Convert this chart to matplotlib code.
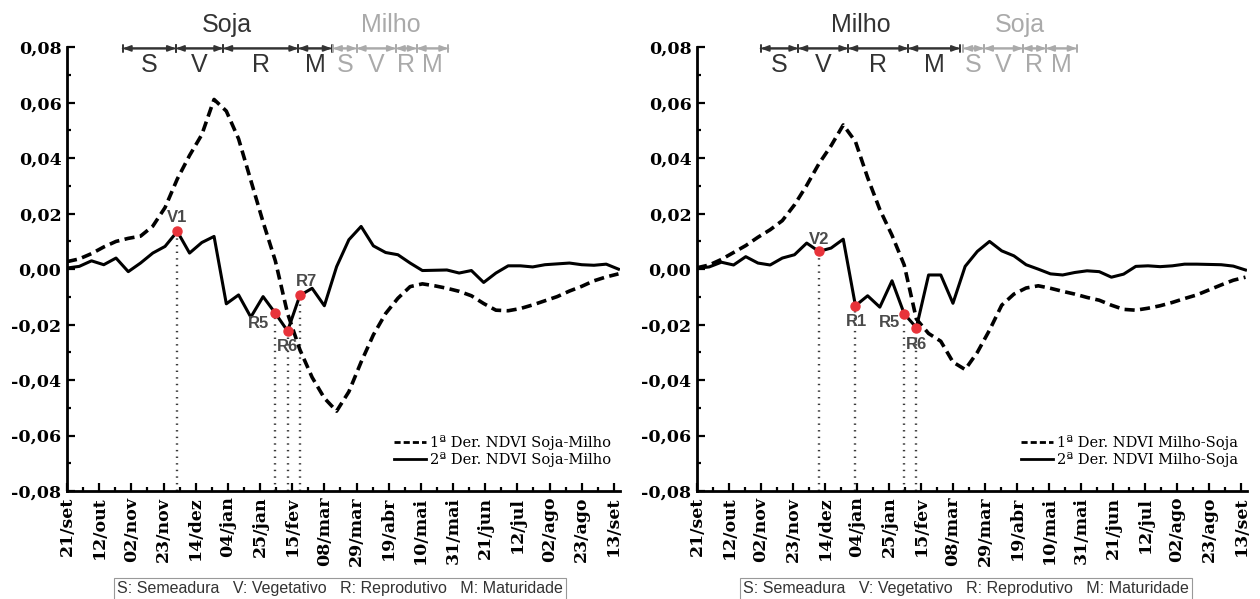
import numpy as np
import matplotlib
matplotlib.use("Agg")
import matplotlib.pyplot as plt
from matplotlib.lines import Line2D
from matplotlib.ticker import FixedLocator, MultipleLocator, FuncFormatter

# 8-day composites, days counted from 21/set
days = np.arange(0, 361, 8)

tick_days = np.arange(0, 358, 21)
tick_labels = ["21/set", "12/out", "02/nov", "23/nov", "14/dez", "04/jan",
               "25/jan", "15/fev", "08/mar", "29/mar", "19/abr", "10/mai",
               "31/mai", "21/jun", "12/jul", "02/ago", "23/ago", "13/set"]

# Soja-Milho: first and second derivative of NDVI
soja_d1 = [0.0027, 0.0037, 0.0056, 0.0080, 0.0100, 0.0111, 0.0119, 0.0155,
           0.0222, 0.0325, 0.0410, 0.0485, 0.0612, 0.0570, 0.0470, 0.0320,
           0.0170, 0.0030, -0.0160, -0.0290, -0.0390, -0.0465, -0.0512, -0.0442,
           -0.0335, -0.0237, -0.0160, -0.0105, -0.0063, -0.0053, -0.0060, -0.0069,
           -0.0080, -0.0096, -0.0124, -0.0148, -0.0150, -0.0142, -0.0129, -0.0114,
           -0.0099, -0.0079, -0.0062, -0.0042, -0.0028, -0.0017]
soja_d2 = [0.0004, 0.0010, 0.0030, 0.0016, 0.0040, -0.0009, 0.0022, 0.0058,
           0.0082, 0.0136, 0.0058, 0.0096, 0.0118, -0.0125, -0.0093, -0.0173,
           -0.0099, -0.0159, -0.0223, -0.0095, -0.0069, -0.0132, 0.0009, 0.0106,
           0.0154, 0.0084, 0.0060, 0.0052, 0.0022, -0.0005, -0.0004, -0.0003,
           -0.0014, -0.0005, -0.0048, -0.0014, 0.0012, 0.0012, 0.0008, 0.0016,
           0.0019, 0.0022, 0.0016, 0.0014, 0.0018, 0.0000]
soja_stage_names = ["V1", "R5", "R6", "R7"]
soja_stage_days = [72, 136, 144, 152]

# Milho-Soja: first and second derivative of NDVI
milho_d1 = [0.0005, 0.0015, 0.0035, 0.0060, 0.0085, 0.0115, 0.0142, 0.0175,
            0.0232, 0.0302, 0.0380, 0.0445, 0.0520, 0.0460, 0.0330, 0.0215,
            0.0122, 0.0015, -0.0180, -0.0232, -0.0260, -0.0335, -0.0362, -0.0300,
            -0.0220, -0.0130, -0.0090, -0.0068, -0.0060, -0.0069, -0.0080, -0.0090,
            -0.0102, -0.0112, -0.0130, -0.0145, -0.0148, -0.0141, -0.0132, -0.0120,
            -0.0106, -0.0093, -0.0075, -0.0057, -0.0040, -0.0029]
milho_d2 = [0.0003, 0.0008, 0.0025, 0.0015, 0.0045, 0.0022, 0.0015, 0.0040,
            0.0052, 0.0094, 0.0064, 0.0076, 0.0108, -0.0132, -0.0096, -0.0137,
            -0.0042, -0.0161, -0.0211, -0.0021, -0.0021, -0.0123, 0.0010, 0.0064,
            0.0100, 0.0066, 0.0048, 0.0016, 0.0000, -0.0017, -0.0021, -0.0012,
            -0.0006, -0.0009, -0.0029, -0.0018, 0.0010, 0.0012, 0.0009, 0.0012,
            0.0018, 0.0018, 0.0017, 0.0016, 0.0011, -0.0003]
milho_stage_names = ["V2", "R1", "R5", "R6"]
milho_stage_days = [80, 104, 136, 144]

# Crop phase limits (days): S, V, R, M
soja_phases = [36.4, 71.1, 102.0, 151.0, 172.8]
milho_after_soja = [173.6, 189.1, 214.7, 228.3, 248.9]
milho_phases = [41.8, 66.5, 99.3, 138.7, 172.6]
soja_after_milho = [174.8, 188.4, 213.8, 229.1, 249.2]
phase_letters = ["S", "V", "R", "M"]

DARK = "#333333"
LIGHT = "#aaaaaa"
RED = "#e8333a"

# label offsets in pixels for the stage markers
soja_offsets = [(0, 14), (-17, -10), (0, -16), (7, 14)]
milho_offsets = [(0, 12), (1, -16), (-15, -9), (0, -17)]

fig = plt.figure(figsize=(12.6, 5.99), dpi=100)
W, H = 1260, 599
ax1 = fig.add_axes([67 / W, 1 - 491 / H, 553 / W, (491 - 47.3) / H])
ax2 = fig.add_axes([697 / W, 1 - 491 / H, 550 / W, (491 - 47.3) / H])


def phase_bar(ax, bounds, color, title):
    y = 0.0796
    for a, b in zip(bounds[:-1], bounds[1:]):
        ax.annotate("", xy=(b, y), xytext=(a, y), annotation_clip=False,
                    arrowprops=dict(arrowstyle="<|-|>,head_length=0.45,head_width=0.17",
                                    color=color, lw=1.4, shrinkA=0, shrinkB=0))
        ax.annotate("", xy=(b, y), xytext=(a, y), annotation_clip=False,
                    arrowprops=dict(arrowstyle="|-|,widthA=0.25,widthB=0.25",
                                    color=color, lw=1.4, shrinkA=0, shrinkB=0))
    for a, b, letter in zip(bounds[:-1], bounds[1:], phase_letters):
        ax.text((a + b) / 2, 0.0737, letter, ha="center", va="center",
                fontsize=18, color=color, family="Liberation Sans", clip_on=False)
    ax.text((bounds[0] + bounds[-1]) / 2, 0.0882, title, ha="center", va="center",
            fontsize=18, color=color, family="Liberation Sans", clip_on=False)


def panel(ax, d1, d2, names, stage_days, offsets, label1, label2,
          phases, phases2, crop1, crop2):
    ax.plot(days, d1, color="black", lw=2.6, linestyle=(0, (2.8, 1.5)),
            label=label1, zorder=3)
    ax.plot(days, d2, color="black", lw=2.2, label=label2, zorder=3)
    for name, sd, off in zip(names, stage_days, offsets):
        v = d2[list(days).index(sd)]
        ax.plot([sd, sd], [-0.08, v], color="#3a3a3a", lw=1.7,
                linestyle=(0, (0.6, 2.2)), zorder=2)
        ax.plot(sd, v, "o", color=RED, ms=6.5, mec=RED, zorder=5)
        ax.annotate(name, xy=(sd, v), xytext=off, textcoords="offset pixels",
                    ha="center", va="center", fontsize=12, fontweight="bold",
                    color="#4a4a4a", family="Liberation Sans", zorder=6)

    ax.set_xlim(0, 361)
    ax.set_ylim(-0.08, 0.08)
    for s in ("top", "right"):
        ax.spines[s].set_visible(False)
    for s in ("left", "bottom"):
        ax.spines[s].set_linewidth(2)
    ax.xaxis.set_major_locator(FixedLocator(tick_days))
    ax.xaxis.set_minor_locator(FixedLocator(tick_days[:-1] + 10.5))
    ax.set_xticklabels(tick_labels, rotation=90, fontsize=12.5, fontweight="bold",
                       family="DejaVu Serif")
    ax.yaxis.set_major_locator(MultipleLocator(0.02))
    ax.yaxis.set_minor_locator(MultipleLocator(0.01))
    ax.yaxis.set_major_formatter(FuncFormatter(
        lambda v, p: f"{v:.2f}".replace(".", ",").replace("-0,00", "0,00")))
    for lab in ax.get_yticklabels():
        lab.set_fontsize(12.5)
        lab.set_fontweight("bold")
        lab.set_family("DejaVu Serif")
    ax.tick_params(which="both", direction="in", width=1.6, color="black")
    ax.tick_params(which="major", length=6, pad=4)
    ax.tick_params(which="minor", length=3)

    handles = [Line2D([], [], color="black", lw=2, linestyle=(0, (2.2, 1.1))),
               Line2D([], [], color="black", lw=2)]
    ax.legend(handles, [label1, label2], loc="lower right",
              bbox_to_anchor=(1.0, 0.035), frameon=False, handlelength=2.2,
              handletextpad=0.3, labelspacing=0.1, borderaxespad=0.2,
              prop={"family": "DejaVu Serif", "size": 10.5})

    phase_bar(ax, phases, DARK, crop1)
    phase_bar(ax, phases2, LIGHT, crop2)


panel(ax1, soja_d1, soja_d2, soja_stage_names, soja_stage_days, soja_offsets,
      "1ª Der. NDVI Soja-Milho", "2ª Der. NDVI Soja-Milho",
      soja_phases, milho_after_soja, "Soja", "Milho")
panel(ax2, milho_d1, milho_d2, milho_stage_names, milho_stage_days, milho_offsets,
      "1ª Der. NDVI Milho-Soja", "2ª Der. NDVI Milho-Soja",
      milho_phases, soja_after_milho, "Milho", "Soja")

key = "S: Semeadura   V: Vegetativo   R: Reprodutivo   M: Maturidade"
for xc in (340 / W, 966 / W):
    fig.text(xc, 1 - 589 / H, key, ha="center", va="center", fontsize=11.5,
             color="#333333", family="Liberation Sans",
             bbox=dict(boxstyle="square,pad=0.2", fc="white", ec="#999999", lw=0.8))

fig.savefig("out.png", dpi=100)
